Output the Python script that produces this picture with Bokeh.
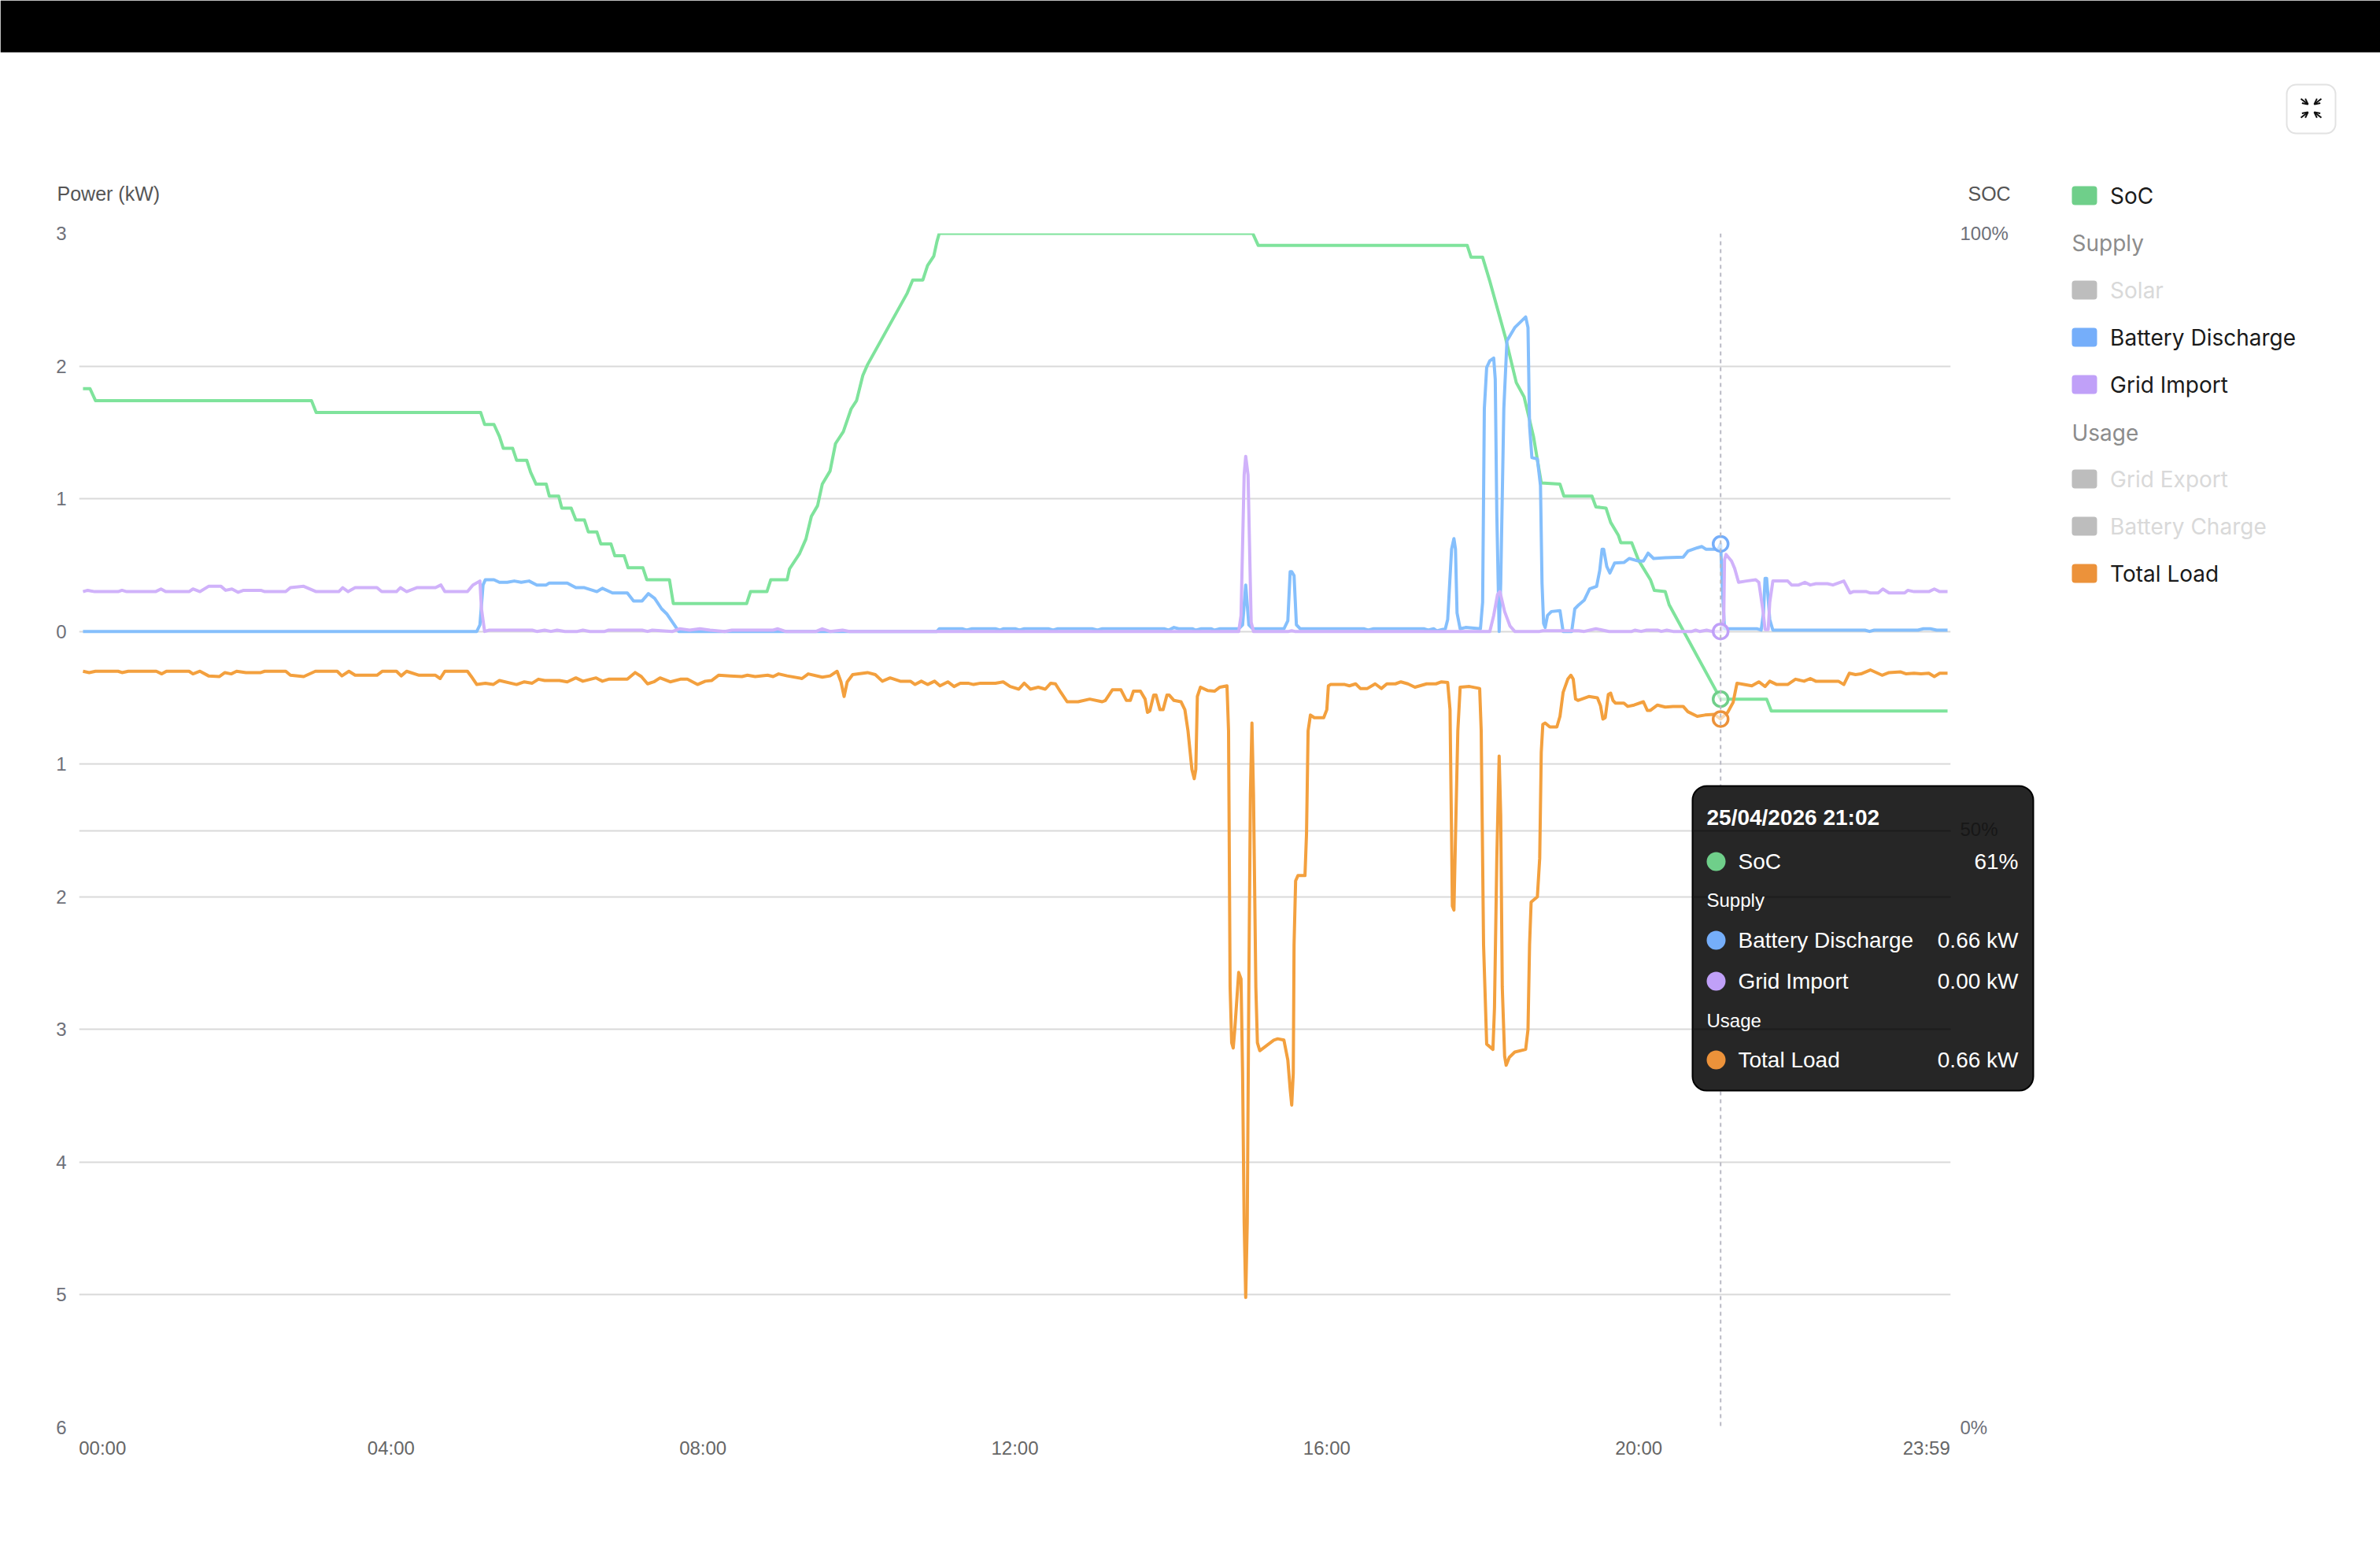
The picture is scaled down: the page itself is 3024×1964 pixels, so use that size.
from bokeh.plotting import figure
from bokeh.embed import file_html
from bokeh.resources import INLINE
from bokeh.models import (Range1d, LinearAxis, FixedTicker, Grid, Span, Label,
                          BoxAnnotation, Arrow, OpenHead)

soc_hours = [0.05, 0.14, 0.21, 2.98, 3.04, 5.15, 5.20, 5.32, 5.39, 5.44, 5.56, 5.61, 5.74, 5.79, 5.86, 5.99, 6.03, 6.15, 6.19,
             6.31, 6.37, 6.48, 6.53, 6.64, 6.69, 6.82, 6.87, 6.99, 7.04, 7.23, 7.28, 7.57, 7.62, 8.56, 8.61, 8.82, 8.87, 9.08,
             9.11, 9.24, 9.32, 9.39, 9.47, 9.53, 9.63, 9.70, 9.80, 9.90, 9.97, 10.05, 10.11, 10.62, 10.69, 10.82, 10.88, 10.96,
             11.00, 11.03, 15.05, 15.12, 17.80, 17.85, 17.998, 18.09, 18.29, 18.43, 18.53, 18.65, 18.75, 18.99, 19.04, 19.40,
             19.45, 19.58, 19.64, 19.74, 19.77, 19.91, 20.00, 20.15, 20.20, 20.34, 20.39, 21.05, 21.64, 21.70, 23.96]
soc_pct = [87, 87, 86, 86, 85, 85, 84, 84, 83, 82, 82, 81, 81, 80, 79, 79, 78, 78, 77,
           77, 76, 76, 75, 75, 74, 74, 73, 73, 72, 72, 71, 71, 69, 69, 70, 70, 71, 71,
           71.9, 73.2, 74.4, 76.3, 77.2, 79, 80.1, 82.4, 83.4, 85.3, 86, 88.1, 89, 95, 96.1, 96.1, 97.3, 98.1,
           99.3, 100, 100, 99, 99, 98, 98, 96, 91.3, 87.5, 86.3, 83, 79.1, 79, 78, 78,
           77.1, 77, 75.8, 74.7, 74.1, 74.1, 72.6, 71, 70.1, 70, 68.9, 61, 61, 60, 60]

discharge_hours = [0.05, 5.10, 5.14, 5.18, 5.21, 5.32, 5.39, 5.49, 5.58, 5.67, 5.77, 5.87, 5.99, 6.03, 6.26, 6.37, 6.48, 6.64,
                   6.71, 6.84, 7.03, 7.11, 7.22, 7.30, 7.38, 7.47, 7.54, 7.69, 11.00, 11.03, 11.33, 11.38, 11.45, 11.75, 11.81,
                   11.85, 12.01, 12.06, 12.12, 12.43, 12.49, 12.55, 12.99, 13.06, 13.12, 13.92, 13.97, 14.04, 14.10, 14.28,
                   14.32, 14.39, 14.52, 14.56, 14.63, 14.87, 14.92, 14.96, 15.00, 15.05, 15.45, 15.50, 15.53, 15.55, 15.58,
                   15.61, 15.66, 16.48, 16.53, 16.60, 17.25, 17.30, 17.37, 17.41, 17.52, 17.55, 17.60, 17.63, 17.65, 17.67,
                   17.71, 17.78, 17.97, 17.998, 18.02, 18.05, 18.09, 18.14, 18.16, 18.18, 18.21, 18.23, 18.27, 18.31, 18.41,
                   18.48, 18.55, 18.58, 18.60, 18.63, 18.70, 18.74, 18.76, 18.78, 18.80, 18.83, 18.88, 18.99, 19.03, 19.14,
                   19.18, 19.23, 19.30, 19.37, 19.46, 19.50, 19.53, 19.55, 19.59, 19.63, 19.69, 19.81, 19.88, 20.00, 20.06,
                   20.12, 20.19, 20.34, 20.57, 20.63, 20.75, 20.81, 20.86, 21.02, 21.05, 21.07, 21.10, 21.52, 21.57, 21.60,
                   21.62, 21.64, 21.68, 21.72, 22.90, 22.96, 23.02, 23.58, 23.65, 23.74, 23.82, 23.96]
discharge_kw = [0, 0, 0.05, 0.35, 0.39, 0.39, 0.37, 0.37, 0.38, 0.37, 0.38, 0.35, 0.35, 0.365, 0.365, 0.33, 0.33, 0.30,
                0.325, 0.29, 0.29, 0.23, 0.23, 0.285, 0.25, 0.17, 0.13, 0, 0, 0.02, 0.02, 0.01, 0.02, 0.02, 0.01,
                0.02, 0.02, 0.01, 0.02, 0.02, 0.01, 0.02, 0.02, 0.01, 0.02, 0.02, 0.01, 0.03, 0.02, 0.02,
                0.01, 0.02, 0.02, 0.01, 0.02, 0.02, 0.05, 0.35, 0.05, 0.02, 0.02, 0.08, 0.45, 0.45, 0.42,
                0.05, 0.02, 0.02, 0.01, 0.02, 0.02, 0.01, 0.02, 0.005, 0.02, 0.09, 0.62, 0.70, 0.62, 0.14,
                0.02, 0.03, 0.02, 0.22, 1.68, 1.99, 2.04, 2.06, 1.90, 0.89, 0, 0.36, 1.68, 2.19, 2.29,
                2.33, 2.37, 2.29, 1.55, 1.31, 1.30, 1.10, 0.36, 0.06, 0.03, 0.12, 0.15, 0.157, 0, 0,
                0.17, 0.20, 0.235, 0.32, 0.34, 0.46, 0.62, 0.62, 0.49, 0.44, 0.515, 0.52, 0.55, 0.53, 0.53,
                0.59, 0.55, 0.555, 0.56, 0.605, 0.63, 0.64, 0.62, 0.62, 0.66, 0.36, 0.02, 0.02, 0.01, 0.14,
                0.40, 0.40, 0.09, 0.01, 0.01, 0, 0.01, 0.01, 0.02, 0.02, 0.01, 0.01]

grid_hours = [0.05, 0.11, 0.20, 0.50, 0.55, 0.61, 0.98, 1.05, 1.11, 1.41, 1.46, 1.55, 1.66, 1.82, 1.88, 1.96, 2.04, 2.11, 2.33,
              2.38, 2.65, 2.71, 2.88, 3.04, 3.33, 3.38, 3.45, 3.54, 3.82, 3.88, 4.07, 4.12, 4.20, 4.33, 4.57, 4.64, 4.69, 4.98,
              5.05, 5.14, 5.16, 5.20, 5.26, 5.81, 5.87, 5.97, 6.05, 6.13, 6.23, 6.39, 6.46, 6.55, 6.74, 6.79, 7.22, 7.29, 7.35,
              7.61, 7.70, 7.83, 7.96, 8.09, 8.28, 8.37, 8.90, 8.96, 9.06, 9.45, 9.53, 9.63, 9.79, 9.88, 14.87, 14.90, 14.94,
              14.96, 14.99, 15.03, 15.06, 15.51, 15.55, 15.59, 18.09, 18.14, 18.19, 18.22, 18.28, 18.35, 18.41, 18.73, 18.77,
              19.23, 19.30, 19.45, 19.62, 19.91, 19.95, 20.03, 20.10, 20.24, 20.29, 20.36, 20.44, 20.68, 20.73, 20.78, 20.87,
              20.94, 21.05, 21.09, 21.10, 21.12, 21.19, 21.23, 21.28, 21.38, 21.50, 21.54, 21.59, 21.62, 21.66, 21.68, 21.72,
              21.91, 21.96, 22.05, 22.13, 22.20, 22.27, 22.42, 22.49, 22.63, 22.71, 22.75, 22.92, 22.97, 23.07, 23.13, 23.21,
              23.41, 23.45, 23.53, 23.72, 23.79, 23.86, 23.96]
grid_kw = [0.30, 0.31, 0.30, 0.30, 0.31, 0.30, 0.30, 0.32, 0.30, 0.30, 0.32, 0.30, 0.34, 0.34, 0.31, 0.32, 0.295, 0.31, 0.31,
           0.30, 0.30, 0.33, 0.34, 0.30, 0.30, 0.33, 0.30, 0.33, 0.33, 0.30, 0.30, 0.33, 0.30, 0.33, 0.33, 0.35, 0.30, 0.30,
           0.35, 0.38, 0.17, 0, 0.01, 0.01, 0, 0.01, 0, 0.01, 0, 0, 0.01, 0, 0, 0.01, 0.01, 0, 0.01,
           0, 0.02, 0.01, 0.02, 0.01, 0, 0.01, 0.01, 0.02, 0, 0, 0.02, 0, 0.01, 0, 0, 0.12, 1.18,
           1.32, 1.18, 0.07, 0, 0, 0.005, 0, 0, 0.12, 0.28, 0.30, 0.15, 0.04, 0, 0, 0.005,
           0.005, 0, 0.02, 0, 0, 0.01, 0, 0.01, 0.01, 0, 0.01, 0, 0, 0.01, 0, 0.01,
           0, 0, 0.09, 0.54, 0.58, 0.53, 0.475, 0.37, 0.38, 0.39, 0.37, 0.17, 0.015, 0.015, 0.22, 0.38,
           0.38, 0.35, 0.35, 0.37, 0.35, 0.36, 0.36, 0.35, 0.38, 0.29, 0.30, 0.30, 0.29, 0.29, 0.32, 0.29,
           0.29, 0.31, 0.30, 0.30, 0.32, 0.30, 0.30]

load_hours = [0.05, 0.13, 0.21, 0.50, 0.55, 0.63, 0.99, 1.06, 1.12, 1.41, 1.46, 1.55, 1.66, 1.80, 1.87, 1.95, 2.02, 2.14, 2.33,
              2.38, 2.65, 2.71, 2.88, 3.03, 3.31, 3.37, 3.46, 3.54, 3.82, 3.89, 4.07, 4.13, 4.20, 4.36, 4.57, 4.63, 4.69, 4.98,
              5.03, 5.10, 5.21, 5.31, 5.39, 5.61, 5.71, 5.81, 5.89, 5.97, 6.16, 6.26, 6.37, 6.46, 6.63, 6.71, 6.79, 7.03, 7.13,
              7.21, 7.29, 7.37, 7.45, 7.58, 7.71, 7.80, 7.93, 8.03, 8.11, 8.20, 8.35, 8.50, 8.57, 8.67, 8.83, 8.90, 8.97, 9.08,
              9.27, 9.35, 9.53, 9.63, 9.72, 9.77, 9.81, 9.85, 9.92, 10.11, 10.21, 10.30, 10.40, 10.53, 10.66, 10.72, 10.80, 10.88,
              10.97, 11.04, 11.14, 11.22, 11.30, 11.40, 11.47, 11.56, 11.75, 11.85, 11.94, 12.05, 12.12, 12.20, 12.30, 12.39,
              12.46, 12.52, 12.59, 12.67, 12.81, 12.96, 13.12, 13.16, 13.25, 13.36, 13.43, 13.48, 13.52, 13.61, 13.67, 13.70,
              13.73, 13.78, 13.81, 13.86, 13.90, 13.95, 13.98, 14.04, 14.13, 14.18, 14.22, 14.27, 14.30, 14.32, 14.34, 14.38,
              14.47, 14.56, 14.63, 14.72, 14.74, 14.76, 14.78, 14.80, 14.82, 14.87, 14.90, 14.92, 14.94, 14.96, 14.98, 15.00,
              15.02, 15.04, 15.06, 15.09, 15.11, 15.14, 15.23, 15.32, 15.37, 15.45, 15.50, 15.53, 15.55, 15.57, 15.58, 15.60,
              15.63, 15.72, 15.74, 15.76, 15.79, 15.84, 15.96, 16.00, 16.02, 16.05, 16.23, 16.29, 16.37, 16.43, 16.52, 16.62,
              16.70, 16.77, 16.88, 16.95, 17.04, 17.13, 17.28, 17.40, 17.47, 17.55, 17.58, 17.60, 17.61, 17.63, 17.65, 17.68,
              17.71, 17.83, 17.96, 17.98, 18.01, 18.05, 18.13, 18.15, 18.18, 18.21, 18.23, 18.25, 18.28, 18.30, 18.34, 18.41,
              18.55, 18.58, 18.60, 18.62, 18.70, 18.73, 18.75, 18.77, 18.80, 18.86, 18.95, 18.99, 19.03, 19.09, 19.13, 19.16,
              19.19, 19.22, 19.36, 19.47, 19.51, 19.54, 19.57, 19.61, 19.64, 19.67, 19.70, 19.81, 19.86, 19.94, 20.06, 20.11,
              20.15, 20.24, 20.34, 20.44, 20.57, 20.63, 20.75, 20.85, 20.97, 21.05, 21.14, 21.21, 21.26, 21.35, 21.45, 21.54,
              21.62, 21.68, 21.77, 21.91, 22.01, 22.12, 22.20, 22.27, 22.56, 22.63, 22.70, 22.78, 22.85, 22.97, 23.12, 23.21,
              23.36, 23.43, 23.53, 23.62, 23.72, 23.79, 23.86, 23.96]
load_kw = [-0.30, -0.31, -0.30, -0.30, -0.31, -0.30, -0.30, -0.32, -0.30, -0.30, -0.32, -0.30, -0.335, -0.34, -0.31, -0.32, -0.30, -0.31, -0.31,
           -0.30, -0.30, -0.33, -0.34, -0.30, -0.30, -0.335, -0.30, -0.33, -0.33, -0.30, -0.30, -0.335, -0.30, -0.33, -0.33, -0.355, -0.30, -0.30,
           -0.34, -0.40, -0.39, -0.40, -0.37, -0.40, -0.38, -0.39, -0.36, -0.37, -0.37, -0.38, -0.35, -0.375, -0.35, -0.375, -0.36, -0.36, -0.31,
           -0.34, -0.395, -0.38, -0.35, -0.38, -0.36, -0.36, -0.40, -0.375, -0.37, -0.33, -0.335, -0.34, -0.33, -0.34, -0.33, -0.34, -0.32, -0.335,
           -0.355, -0.32, -0.345, -0.335, -0.30, -0.38, -0.49, -0.38, -0.325, -0.31, -0.325, -0.375, -0.35, -0.375, -0.375, -0.40, -0.375, -0.40,
           -0.375, -0.41, -0.38, -0.415, -0.39, -0.39, -0.40, -0.39, -0.39, -0.38, -0.415, -0.435, -0.39, -0.435, -0.42, -0.435,
           -0.39, -0.395, -0.46, -0.53, -0.53, -0.51, -0.53, -0.52, -0.44, -0.44, -0.52, -0.52, -0.45, -0.45, -0.51, -0.61,
           -0.60, -0.48, -0.48, -0.59, -0.59, -0.48, -0.48, -0.52, -0.53, -0.59, -0.75, -1.04, -1.11, -1.04, -0.49, -0.42,
           -0.445, -0.45, -0.42, -0.41, -0.75, -2.68, -3.10, -3.14, -3.00, -2.57, -2.62, -3.33, -4.45, -5.02, -4.45, -2.68,
           -1.23, -0.69, -1.23, -2.68, -3.10, -3.16, -3.12, -3.08, -3.07, -3.08, -3.23, -3.45, -3.57, -3.33, -2.36, -1.88,
           -1.84, -1.84, -1.52, -0.75, -0.63, -0.65, -0.65, -0.59, -0.41, -0.40, -0.40, -0.41, -0.395, -0.43, -0.43, -0.395,
           -0.43, -0.395, -0.395, -0.38, -0.395, -0.42, -0.395, -0.395, -0.38, -0.385, -0.59, -1.55, -2.07, -2.10, -1.55, -0.75,
           -0.42, -0.415, -0.43, -0.75, -2.36, -3.11, -3.15, -2.84, -1.71, -0.94, -1.39, -2.68, -3.20, -3.27, -3.21, -3.17,
           -3.15, -3.00, -2.36, -2.04, -2.00, -1.71, -0.91, -0.70, -0.69, -0.72, -0.72, -0.64, -0.46, -0.36, -0.33, -0.36,
           -0.51, -0.52, -0.49, -0.50, -0.56, -0.66, -0.65, -0.475, -0.465, -0.52, -0.54, -0.54, -0.565, -0.555, -0.53, -0.595,
           -0.595, -0.555, -0.57, -0.565, -0.565, -0.605, -0.64, -0.63, -0.625, -0.66, -0.61, -0.535, -0.39, -0.40, -0.41, -0.38,
           -0.415, -0.375, -0.40, -0.40, -0.36, -0.375, -0.355, -0.375, -0.375, -0.40, -0.315, -0.325, -0.32, -0.29, -0.33, -0.31,
           -0.305, -0.32, -0.315, -0.32, -0.315, -0.34, -0.315, -0.315]

for a, b in [(soc_hours, soc_pct), (discharge_hours, discharge_kw), (grid_hours, grid_kw), (load_hours, load_kw)]:
    assert len(a) == len(b), (len(a), len(b))

power_ticks = [3, 2, 1, 0, -1, -2, -3, -4, -5, -6]
power_labels = ["3", "2", "1", "0", "1", "2", "3", "4", "5", "6"]
soc_ticks = [0, 50, 100]
soc_labels = ["0%", "50%", "100%"]
time_ticks = [0.30, 4, 8, 12, 16, 20, 23.69]
time_labels = ["00:00", "04:00", "08:00", "12:00", "16:00", "20:00", "23:59"]
hover_hour = 21.05
hover_soc = 61
hover_discharge = 0.66
hover_grid = 0.00
hover_load = -0.66

GREEN, BLUE, PURPLE, ORANGE = "#6fcf8a", "#75aefa", "#c0a0f8", "#ec923a"
LGREEN, LBLUE, LPURPLE, LORANGE = "#7fe39c", "#85bffc", "#d0b2fa", "#f3a03e"
SANS = "Liberation Sans"
UI = "Inter"

# canvas geometry
W, H = 3024, 1956
FL, FR, FT, FB = 100.5, 2478.0, 296.5, 1812.5

p = figure(width=W, height=H, output_backend="svg", toolbar_location=None,
           x_range=Range1d(0, 24), y_range=Range1d(-6, 3),
           min_border_left=int(FL), min_border_right=int(W - FR),
           min_border_top=int(FT), min_border_bottom=int(H - FB),
           outline_line_color=None, x_axis_location="below", y_axis_location="left")
p.styles = {"position": "absolute", "left": "0px", "top": "0px"}
p.extra_y_ranges["soc"] = Range1d(0, 100)

ax = p.yaxis[0]
ax.ticker = FixedTicker(ticks=power_ticks)
ax.major_label_overrides = dict(zip(power_ticks, power_labels))
xa = p.xaxis[0]
xa.ticker = FixedTicker(ticks=time_ticks)
xa.major_label_overrides = dict(zip(time_ticks, time_labels))
ra = LinearAxis(y_range_name="soc", ticker=FixedTicker(ticks=soc_ticks),
                major_label_overrides=dict(zip(soc_ticks, soc_labels)))
p.add_layout(ra, "right")
for a in (ax, xa, ra):
    a.axis_line_color = None
    a.major_tick_line_color = None
    a.minor_tick_line_color = None
    a.major_label_text_font = SANS
    a.major_label_text_font_size = "24px"
    a.major_label_text_color = "#6e7079"
ax.major_label_standoff = 10
ra.major_label_standoff = 6
xa.major_label_standoff = 6
xa.major_label_text_color = "#666666"

p.xgrid.visible = False
p.ygrid[0].ticker = FixedTicker(ticks=power_ticks)
p.ygrid[0].grid_line_color = "#d9d9d9"
p.ygrid[0].grid_line_width = 2
g50 = Grid(dimension=1, axis=ra, y_range_name="soc", grid_line_color="#d9d9d9", grid_line_width=2)
p.add_layout(g50)

p.add_layout(Span(location=hover_hour, dimension="height", line_color="#b9b9c4",
                  line_width=2, line_dash="5 5"))

LW = 4
p.line(soc_hours, soc_pct, y_range_name="soc", line_color=LGREEN, line_width=LW, line_join="round")
p.line(discharge_hours, discharge_kw, line_color=LBLUE, line_width=LW, line_join="round")
p.line(grid_hours, grid_kw, line_color=LPURPLE, line_width=LW, line_join="round")
p.line(load_hours, load_kw, line_color=LORANGE, line_width=LW, line_join="round")

p.scatter([hover_hour], [hover_soc], y_range_name="soc", size=19, fill_color="white", fill_alpha=0.6, line_color=GREEN, line_width=3.5)
p.scatter([hover_hour], [hover_discharge], size=19, fill_color="white", fill_alpha=0.6, line_color=BLUE, line_width=3.5)
p.scatter([hover_hour], [hover_grid], size=19, fill_color="white", fill_alpha=0.6, line_color=PURPLE, line_width=3.5)
p.scatter([hover_hour], [hover_load], size=19, fill_color="white", fill_alpha=0.6, line_color=ORANGE, line_width=3.5)

# transparent full-page figure on top: page chrome, names, legend, tooltip
o = figure(width=W, height=H, output_backend="svg", toolbar_location=None,
           x_range=Range1d(0, W), y_range=Range1d(H, 0), x_axis_type=None, y_axis_type=None,
           min_border=0, outline_line_color=None, background_fill_alpha=0, border_fill_alpha=0)
o.grid.visible = False
o.styles = {"position": "absolute", "left": "0px", "top": "0px"}


def box(l, r, t, b, fill, line=None, radius=0, lw=0):
    o.add_layout(BoxAnnotation(left=l, right=r, top=t, bottom=b,
                               fill_color=fill, fill_alpha=1, line_color=line, line_width=lw,
                               line_alpha=1 if line else 0, border_radius=radius))


def text(x, y, s, size=28, color="#000000", font=SANS, align="left", style="normal"):
    o.add_layout(Label(x=x, y=y, text=s, text_font=font,
                       text_font_size=f"{size}px", text_color=color, text_align=align,
                       text_baseline="middle", text_font_style=style))


# top bar, button
box(0, W, 0, 66, "#000000")
box(2905, 2967, 107, 169, "#ffffff", "#e2e2e2", 12, 2)
for xs, ys, xe, ye in [(2923, 125, 2932, 132), (2949, 125, 2940, 132), (2923, 149, 2932, 142), (2949, 149, 2940, 142)]:
    o.add_layout(Arrow(x_start=xs, y_start=ys, x_end=xe, y_end=ye,
                       line_color="#111111", line_width=2,
                       end=OpenHead(size=7, line_color="#111111", line_width=2)))

# axis names
text(72, 245.5, "Power (kW)", 25, "#555555")
text(2500, 245.5, "SOC", 25, "#555555")

# legend
SW_L, SW_R, TX = 2632, 2664, 2680.6
legend_rows = [("SoC", 248, GREEN, "#1a1a1a"), ("Solar", 368, "#bdbdbd", "#d9d9d9"),
               ("Battery Discharge", 428, BLUE, "#1a1a1a"), ("Grid Import", 488, PURPLE, "#1a1a1a"),
               ("Grid Export", 608, "#bdbdbd", "#d9d9d9"), ("Battery Charge", 668, "#bdbdbd", "#d9d9d9"),
               ("Total Load", 728, ORANGE, "#1a1a1a")]
for name, yc, col, tcol in legend_rows:
    box(SW_L, SW_R, yc - 12, yc + 12, col, None, 4)
    text(TX, yc, name, 28, tcol, UI)
text(SW_L, 308.6, "Supply", 28, "#8c8c8c", UI)
text(SW_L, 549, "Usage", 28, "#8c8c8c", UI)

# tooltip
box(2150, 2583, 998, 1385, "#262626", "#000000", 18, 2)
for yy in (1055, 1139, 1307):
    box(2151, 2478, yy - 1, yy + 1, "#1d1d1d")
text(2490, 1053, "50%", 24, "#171717")
text(2168, 1038, "25/04/2026 21:02", 28, "#ffffff", SANS, "left", "bold")
rows = [("SoC", "61%", 1094, GREEN), ("Battery Discharge", "0.66 kW", 1194, BLUE),
        ("Grid Import", "0.00 kW", 1246, PURPLE), ("Total Load", "0.66 kW", 1346, ORANGE)]
for name, val, yc, col in rows:
    box(2168, 2192, yc - 12, yc + 12, col, None, 12)
    text(2208, yc, name, 28, "#ffffff")
    text(2564, yc, val, 28, "#ffffff", SANS, "right")
text(2168, 1143, "Supply", 24, "#ffffff")
text(2168, 1296, "Usage", 24, "#ffffff")

open("out.html", "w").write(file_html([p, o], INLINE))
